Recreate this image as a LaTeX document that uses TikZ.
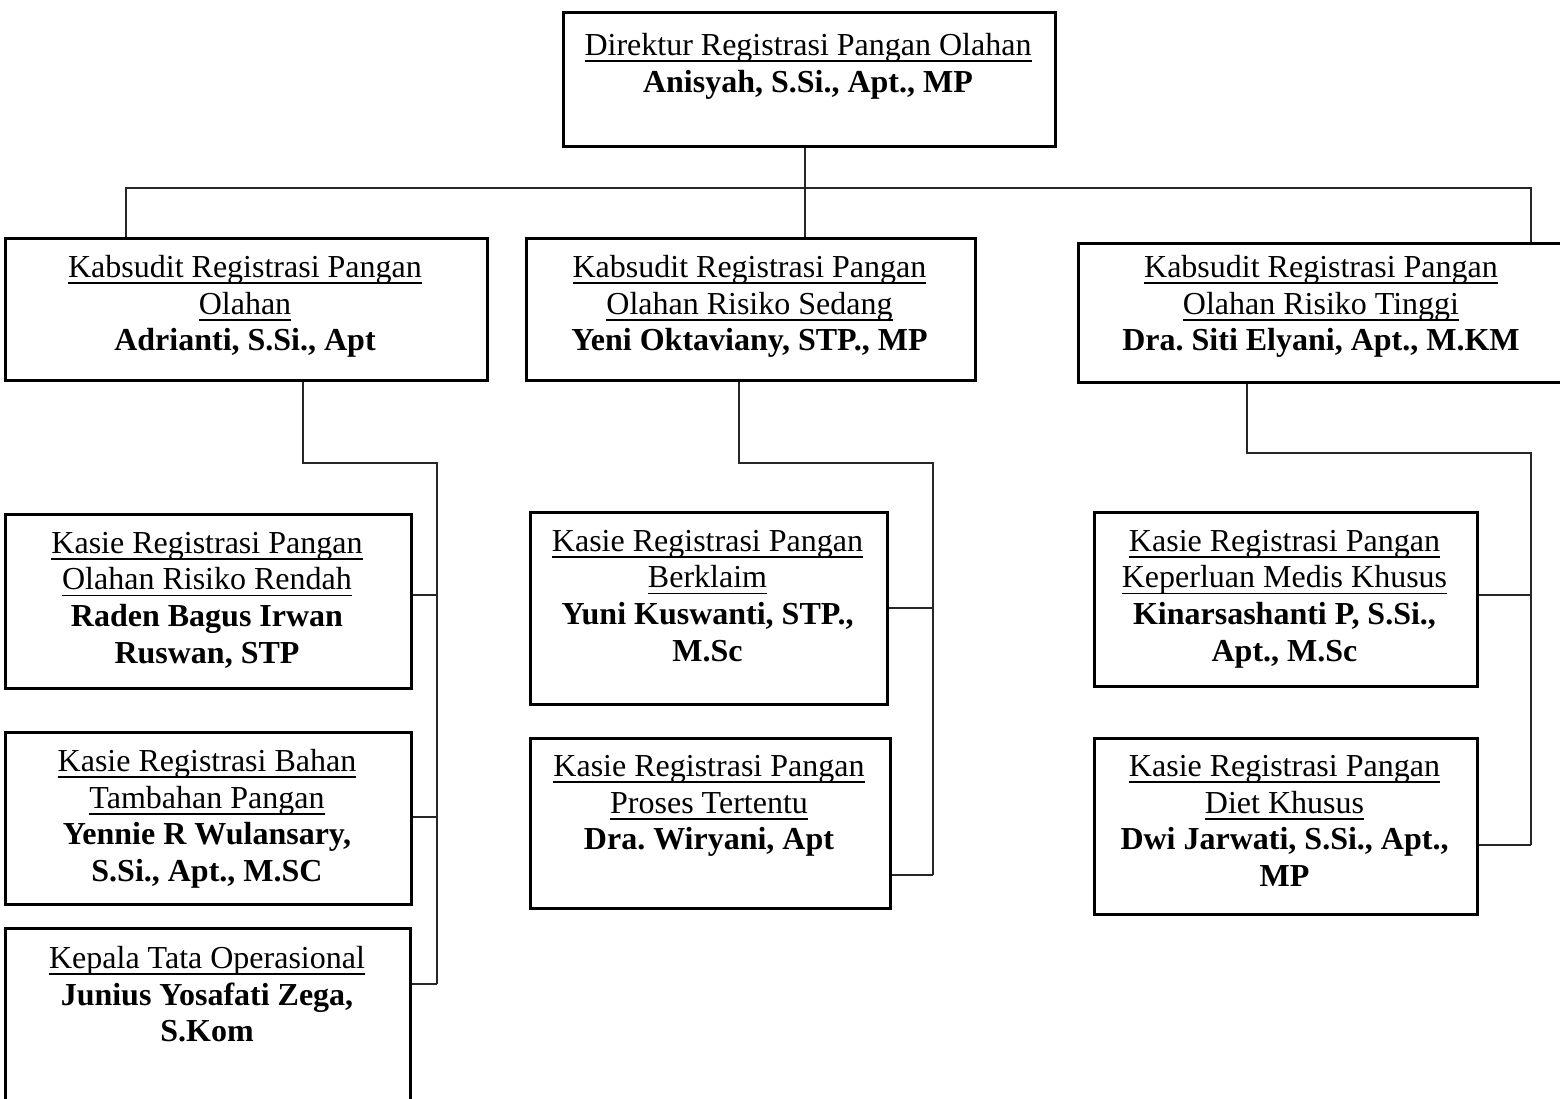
\documentclass[tikz,border=0pt]{standalone}
\usepackage{fontspec}
\setmainfont{Liberation Serif}
\newsavebox\myulbox
\newcommand\myul[1]{\sbox\myulbox{#1}\rlap{\rule[-6.5pt]{\wd\myulbox}{1.7pt}}\usebox\myulbox}
\frenchspacing
\begin{document}
\begin{tikzpicture}[x=1pt,y=-1pt,
  orgbox/.style={draw=black,line width=2.6pt,fill=none,inner sep=0pt,anchor=north west},
  orgtxt/.style={anchor=north,inner sep=0pt,align=center,font=\frenchspacing\fontsize{32}{36.6}\selectfont},
  conn/.style={draw=black!85,line width=1.1pt}]
\useasboundingbox (0,0) rectangle (1560,1098);
% boxes
\node[orgbox,minimum width=492pt,minimum height=134pt] (dir) at (562,11) {};
\node[orgbox,minimum width=482pt,minimum height=142pt] (kabL) at (4,237) {};
\node[orgbox,minimum width=449pt,minimum height=142pt] (kabM) at (525,237) {};
\node[orgbox,minimum width=486pt,minimum height=139pt] (kabR) at (1077,242) {};
\node[orgbox,minimum width=406pt,minimum height=174pt] (L1) at (4,513) {};
\node[orgbox,minimum width=406pt,minimum height=172pt] (L2) at (4,731) {};
\node[orgbox,minimum width=405pt,minimum height=190pt] (L3) at (4,927) {};
\node[orgbox,minimum width=357pt,minimum height=192pt] (M1) at (529,511) {};
\node[orgbox,minimum width=360pt,minimum height=170pt] (M2) at (529,737) {};
\node[orgbox,minimum width=383pt,minimum height=174pt] (R1) at (1093,511) {};
\node[orgbox,minimum width=383pt,minimum height=176pt] (R2) at (1093,737) {};
% texts
\node[orgtxt] (dirT) at (808,33) {\myul{Direktur Registrasi Pangan Olahan}\\\textbf{Anisyah, S.Si., Apt., MP}};
\node[orgtxt] (kabLT) at (245,255) {\myul{Kabsudit Registrasi Pangan}\\\myul{Olahan}\\\textbf{Adrianti, S.Si., Apt}};
\node[orgtxt] (kabMT) at (749.5,255) {\myul{Kabsudit Registrasi Pangan}\\\myul{Olahan Risiko Sedang}\\\textbf{Yeni Oktaviany, STP., MP}};
\node[orgtxt] (kabRT) at (1321,255) {\myul{Kabsudit Registrasi Pangan}\\\myul{Olahan Risiko Tinggi}\\\textbf{Dra. Siti Elyani, Apt., M.KM}};
\node[orgtxt] (L1T) at (207,532) {\myul{Kasie Registrasi Pangan}\\\myul{Olahan Risiko Rendah}\\\textbf{Raden Bagus Irwan}\\\textbf{Ruswan, STP}};
\node[orgtxt] (L2T) at (207,749) {\myul{Kasie Registrasi Bahan}\\\myul{Tambahan Pangan}\\\textbf{Yennie R Wulansary,}\\\textbf{S.Si., Apt., M.SC}};
\node[orgtxt] (L3T) at (207,946) {\myul{Kepala Tata Operasional}\\\textbf{Junius Yosafati Zega,}\\\textbf{S.Kom}};
\node[orgtxt] (M1T) at (707.5,530) {\myul{Kasie Registrasi Pangan}\\\myul{Berklaim}\\\textbf{Yuni Kuswanti, STP.,}\\\textbf{M.Sc}};
\node[orgtxt] (M2T) at (709,755) {\myul{Kasie Registrasi Pangan}\\\myul{Proses Tertentu}\\\textbf{Dra. Wiryani, Apt}};
\node[orgtxt] (R1T) at (1284.5,530) {\myul{Kasie Registrasi Pangan}\\\myul{Keperluan Medis Khusus}\\\textbf{Kinarsashanti P, S.Si.,}\\\textbf{Apt., M.Sc}};
\node[orgtxt] (R2T) at (1284.5,755) {\myul{Kasie Registrasi Pangan}\\\myul{Diet Khusus}\\\textbf{Dwi Jarwati, S.Si., Apt.,}\\\textbf{MP}};
% junction coordinates
\coordinate (hl) at (126,188);
\coordinate (hr) at (1531,188);
\coordinate (dv) at (805,188);
\coordinate (la) at (303,463);
\coordinate (lb) at (437,463);
\coordinate (lb1) at (437,595);
\coordinate (lb2) at (437,817);
\coordinate (lb3) at (437,984);
\coordinate (ma) at (739,463);
\coordinate (mb) at (933,463);
\coordinate (mb1) at (933,608);
\coordinate (mb2) at (933,875);
\coordinate (ra) at (1247,453);
\coordinate (rb) at (1531,453);
\coordinate (rb1) at (1531,595);
\coordinate (rb2) at (1531,845);
% connectors
\draw[conn] (dv |- dir.south) -- (dv |- kabM.north);
\draw[conn] (hl |- kabL.north) -- (hl) -- (hr) -- (hr |- kabR.north);
\draw[conn] (la |- kabL.south) -- (la) -- (lb) -- (lb3);
\draw[conn] (lb1 -| L1.east) -- (lb1);
\draw[conn] (lb2 -| L2.east) -- (lb2);
\draw[conn] (lb3 -| L3.east) -- (lb3);
\draw[conn] (ma |- kabM.south) -- (ma) -- (mb) -- (mb2);
\draw[conn] (mb1 -| M1.east) -- (mb1);
\draw[conn] (mb2 -| M2.east) -- (mb2);
\draw[conn] (ra |- kabR.south) -- (ra) -- (rb) -- (rb2);
\draw[conn] (rb1 -| R1.east) -- (rb1);
\draw[conn] (rb2 -| R2.east) -- (rb2);
\end{tikzpicture}
\end{document}
